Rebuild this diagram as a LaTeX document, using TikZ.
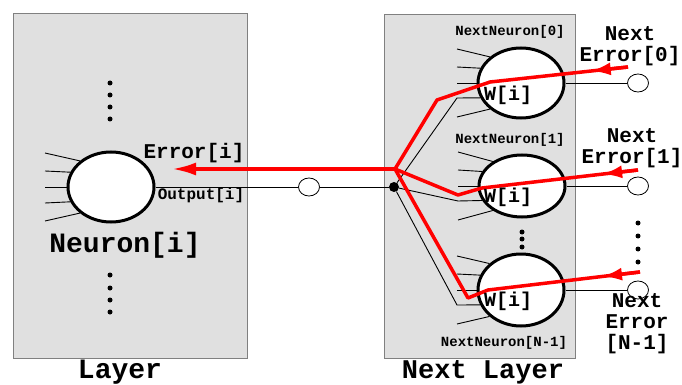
\documentclass[tikz,border=0pt]{standalone}
\usepackage{fontspec}
\setmonofont{Liberation Mono}
\usepackage{tikz}
\usetikzlibrary{calc,shapes.geometric,arrows.meta}

\tikzset{
  layerbox/.style={draw=gray,fill=black!12,line width=1pt},
  neuron/.style={draw,ellipse,line width=3pt,fill=white,
    minimum width=86pt,minimum height=70pt,inner sep=0pt},
  port/.style={draw,ellipse,fill=white,line width=0.8pt,
    minimum width=21pt,minimum height=18pt,inner sep=0pt},
  wire/.style={line width=0.9pt},
  errline/.style={red,line width=3.5pt,line join=round},
  errtip/.style={-{Latex[length=#1,width=13pt]}},
  lbl/.style={font={\ttfamily\bfseries\fontsize{#1}{#1}\selectfont},inner sep=0pt},
}

\begin{document}
\begin{tikzpicture}[x=1pt,y=-1pt]
    \useasboundingbox (0,0) rectangle (682,385);

    % the two layers
    \draw [layerbox] (13,14) rectangle (247,358);
    \draw [layerbox] (384,15) rectangle (575,358);

    \node[neuron] (neuron) at (111,187) {};
    \node[neuron] (nn0) at (521,83) {};
    \node[neuron,minimum height=62pt] (nn1) at (522,186) {};
    \node[neuron,minimum height=72pt] (nnN) at (521,290) {};

    \node[port] (out) at (309,187) {};
    \node[port] (o0) at (638,83) {};
    \node[port] (o1) at (638,186) {};
    \node[port] (oN) at (638,290) {};

    \node[circle,fill,inner sep=0pt,minimum size=10pt] (jct) at (394,187) {};
    \coordinate (rjct) at (395,169);

    % input lines
    \foreach \a/\dy in {140/-34,160/-16,180/0,200/16,220/34}
        \draw [wire] ($(neuron)+(-66,\dy)$) -- (neuron.\a);
    \foreach \n in {nn0,nn1,nnN} {
        \foreach \a/\dy in {140/-34,160/-16,180/0,220/34}
            \draw [wire] ($(\n)+(-64,\dy)$) -- (\n.\a);
        \draw [wire] (jct) -- ($(\n)+(-64,15)$) -- (\n.200);
    }

    % outputs
    \draw [wire] (neuron.east) -- (out) -- (jct);
    \draw [wire] (nn0.east) -- (o0);
    \draw [wire] (nn1.east) -- (o1);
    \draw [wire] (nnN.east) -- (oN);

    % error paths
    \coordinate (e0) at (628,67);
    \coordinate (k0) at (490,82);
    \coordinate (b0) at (437,100);
    \coordinate (e1) at (638,170);
    \coordinate (k1) at (482,188);
    \coordinate (b1) at (458,195);
    \coordinate (eN) at (640,272);
    \coordinate (kN) at (488,290);
    \coordinate (bN) at (468,298);
    \coordinate (etip) at (172,169);

    \draw [errline] (e0) -- (k0) -- (b0) -- (rjct);
    \draw [errline] (e1) -- (k1) -- (b1) -- (rjct);
    \draw [errline] (eN) -- (kN) -- (bN) -- (rjct);
    \draw [errline,errtip=20pt] (e0) -- ($(e0)!0.27!(k0)$);
    \draw [errline,errtip=20pt] (e1) -- ($(e1)!0.23!(k1)$);
    \draw [errline,errtip=20pt] (eN) -- ($(eN)!0.25!(kN)$);
    \draw [errline,errtip=24pt] (rjct) -- (etip);

    % dots
    \foreach \y in {83,95,107,119}
        \fill (110,\y) circle (2.5pt);
    \foreach \y in {275,288,300,312}
        \fill (110,\y) circle (2.5pt);
    \foreach \y in {232,239,247}
        \fill (522,\y) circle (2.5pt);
    \foreach \y in {223,236,249,262}
        \fill (638,\y) circle (2.5pt);

    % labels
    \node[lbl=21] (errlbl) at (194,153) {Error[i]};
    \node[lbl=16] (outlbl) at (201,195) {Output[i]};
    \node[lbl=28] (name) at (125,245) {Neuron[i]};
    \node[lbl=28,anchor=base] (layer) at (120,378) {Layer};
    \node[lbl=27,anchor=base] (nextlayer) at (483,378) {Next Layer};

    \node[lbl=14] (name0) at (510,32) {NextNeuron[0]};
    \node[lbl=14] (name1) at (510,140) {NextNeuron[1]};
    \node[lbl=14] (nameN) at (504,343) {NextNeuron[N-1]};

    \node[lbl=20] (w0) at ($(nn0)+(-13,12)$) {W[i]};
    \node[lbl=20] (w1) at ($(nn1)+(-14,11)$) {W[i]};
    \node[lbl=20] (wN) at ($(nnN)+(-13,11)$) {W[i]};

    \node[lbl=21,align=center] (ne0) at (630,46) {Next\\Error[0]};
    \node[lbl=21,align=center] (ne1) at (632,148) {Next\\Error[1]};
    \node[lbl=21,align=center] (neN) at (637,324) {Next\\Error\\{[N-1]}};
\end{tikzpicture}
\end{document}
